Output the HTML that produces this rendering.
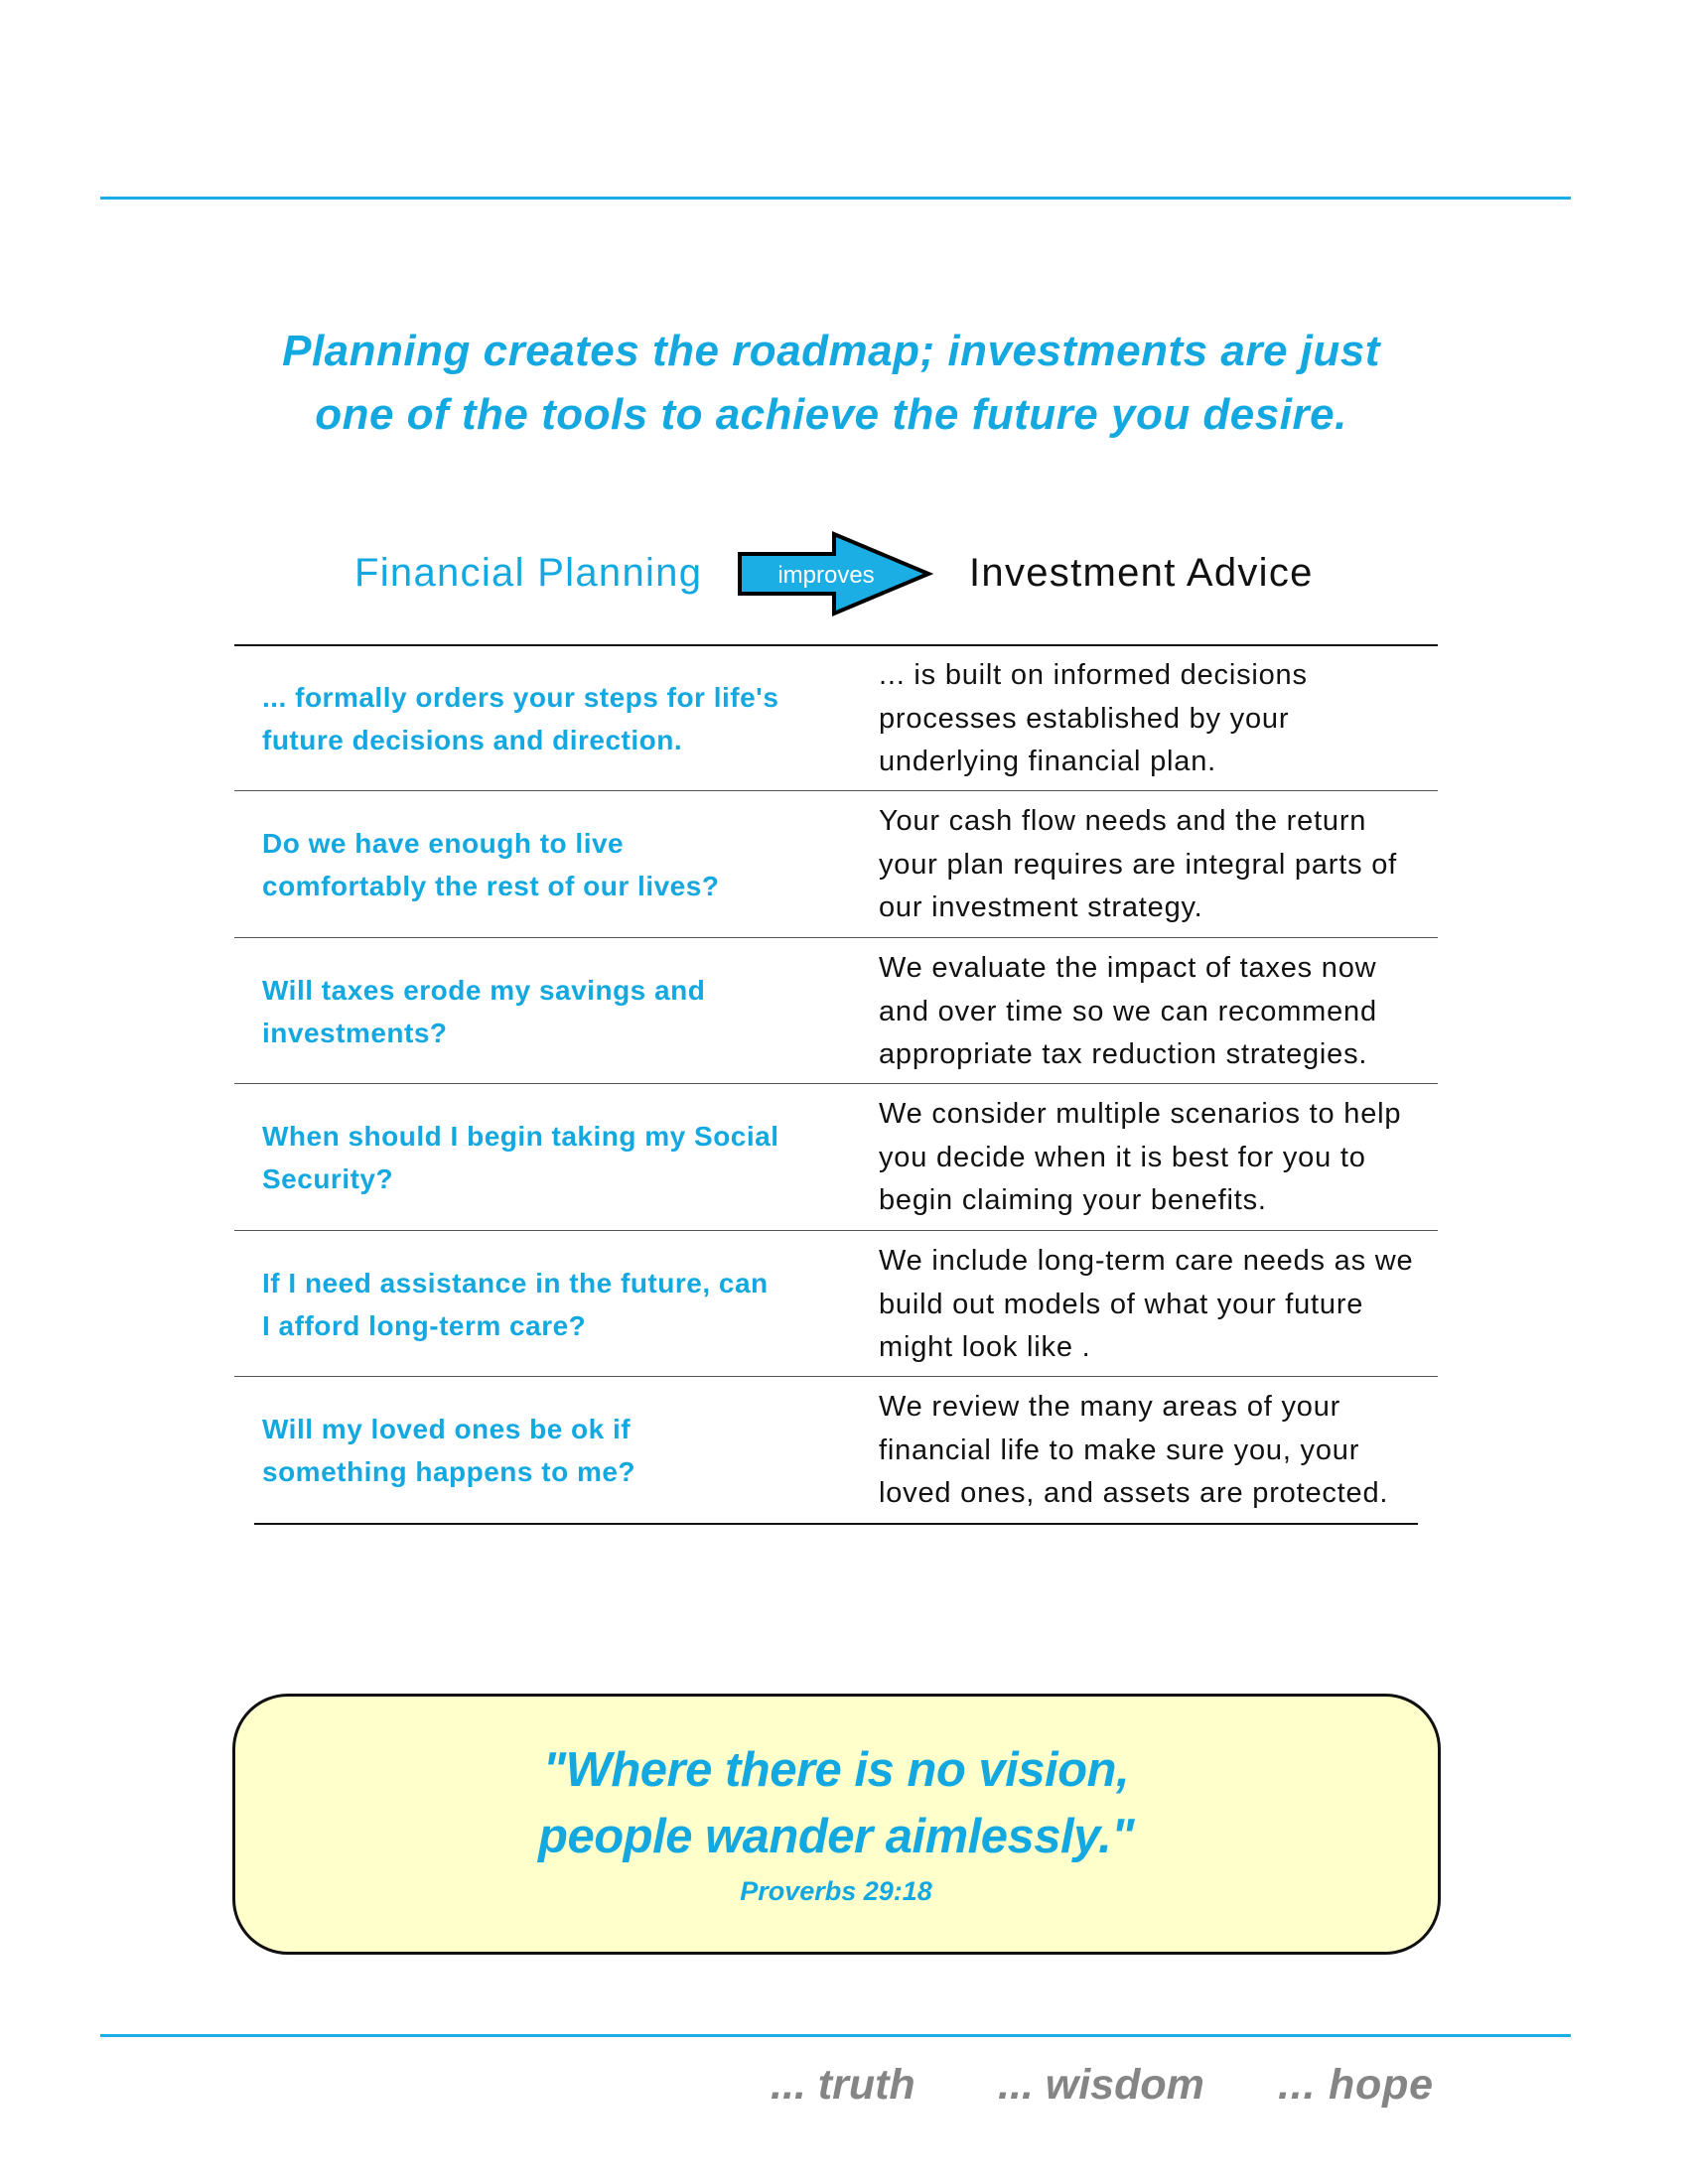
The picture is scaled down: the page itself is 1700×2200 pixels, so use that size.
<!DOCTYPE html>
<html><head><meta charset="utf-8"><style>
body{margin:0;width:1700px;height:2200px;background:#fff;position:relative;overflow:hidden;font-family:"Liberation Sans",sans-serif}
.a{position:absolute;white-space:nowrap}
.hl{position:absolute;height:3px;background:#1aaee5}
.tl{position:absolute;height:2px;background:#111}
.c{color:#14a8e0}
.L{position:absolute;left:264px;color:#14a8e0;font-size:28px;font-weight:bold;letter-spacing:0.5px;line-height:43px;white-space:nowrap}
.R{position:absolute;left:885px;color:#111;font-size:29px;letter-spacing:0.8px;line-height:43.5px;white-space:nowrap}
</style></head><body>
<div class="hl" style="left:101px;top:198px;width:1481px"></div>
<div class="a c" style="left:0;width:1674px;text-align:center;top:322px;font-size:44px;font-weight:bold;font-style:italic;line-height:64px;letter-spacing:0.5px">Planning creates the roadmap; investments are just<br>one of the tools to achieve the future you desire.</div>

<div class="a c" style="left:357px;top:553px;font-size:40px;line-height:48px;letter-spacing:1.3px">Financial Planning</div>
<svg class="a" style="left:740px;top:534px" width="200" height="90"><polygon points="5,24 100,24 100,4 195,44 100,84 100,64 5,64" fill="#1aaee5" stroke="#000" stroke-width="4"/><text x="92" y="53" font-family="Liberation Sans" font-size="24" fill="#fff" text-anchor="middle">improves</text></svg>
<div class="a" style="left:976px;top:553px;font-size:40px;line-height:48px;color:#111;letter-spacing:1.3px">Investment Advice</div>

<div class="tl" style="left:236px;top:649px;width:1212px"></div>
<div class="tl" style="left:236px;top:796px;width:1212px;height:1px;background:#555"></div>
<div class="tl" style="left:236px;top:944px;width:1212px;height:1px;background:#555"></div>
<div class="tl" style="left:236px;top:1091px;width:1212px;height:1px;background:#555"></div>
<div class="tl" style="left:236px;top:1239px;width:1212px;height:1px;background:#555"></div>
<div class="tl" style="left:236px;top:1386px;width:1212px;height:1px;background:#555"></div>
<div class="tl" style="left:256px;top:1534px;width:1172px"></div>

<div class="L" style="top:681px">... formally orders your steps for life's<br>future decisions and direction.</div>
<div class="R" style="top:659px">... is built on informed decisions<br>processes established by your<br>underlying financial plan.</div>

<div class="L" style="top:828px">Do we have enough to live<br>comfortably the rest of our lives?</div>
<div class="R" style="top:806px">Your cash flow needs and the return<br>your plan requires are integral parts of<br>our investment strategy.</div>

<div class="L" style="top:976px">Will taxes erode my savings and<br>investments?</div>
<div class="R" style="top:954px">We evaluate the impact of taxes now<br>and over time so we can recommend<br>appropriate tax reduction strategies.</div>

<div class="L" style="top:1123px">When should I begin taking my Social<br>Security?</div>
<div class="R" style="top:1101px">We consider multiple scenarios to help<br>you decide when it is best for you to<br>begin claiming your benefits.</div>

<div class="L" style="top:1271px">If I need assistance in the future, can<br>I afford long-term care?</div>
<div class="R" style="top:1249px">We include long-term care needs as we<br>build out models of what your future<br>might look like .</div>

<div class="L" style="top:1418px">Will my loved ones be ok if<br>something happens to me?</div>
<div class="R" style="top:1396px">We review the many areas of your<br>financial life to make sure you, your<br>loved ones, and assets are protected.</div>

<div class="a" style="left:234px;top:1706px;width:1211px;height:257px;border:3px solid #111;border-radius:56px;background:#ffffcc"></div>
<div class="a c" style="left:236px;width:1212px;text-align:center;top:1750px;font-size:49px;font-weight:bold;font-style:italic;line-height:67px;letter-spacing:-0.5px">"Where there is no vision,<br>people wander aimlessly."</div>
<div class="a c" style="left:236px;width:1212px;text-align:center;top:1889px;font-size:27px;font-weight:bold;font-style:italic;line-height:32px">Proverbs 29:18</div>

<div class="hl" style="left:101px;top:2049px;width:1481px"></div>
<div class="a" style="left:776px;top:2074px;font-size:43px;font-weight:bold;font-style:italic;color:#858585;line-height:52px">... truth</div>
<div class="a" style="left:1005px;top:2074px;font-size:43px;font-weight:bold;font-style:italic;color:#858585;line-height:52px">... wisdom</div>
<div class="a" style="left:1287px;top:2074px;font-size:43px;font-weight:bold;font-style:italic;color:#858585;line-height:52px;letter-spacing:0.8px">... hope</div>
</body></html>
